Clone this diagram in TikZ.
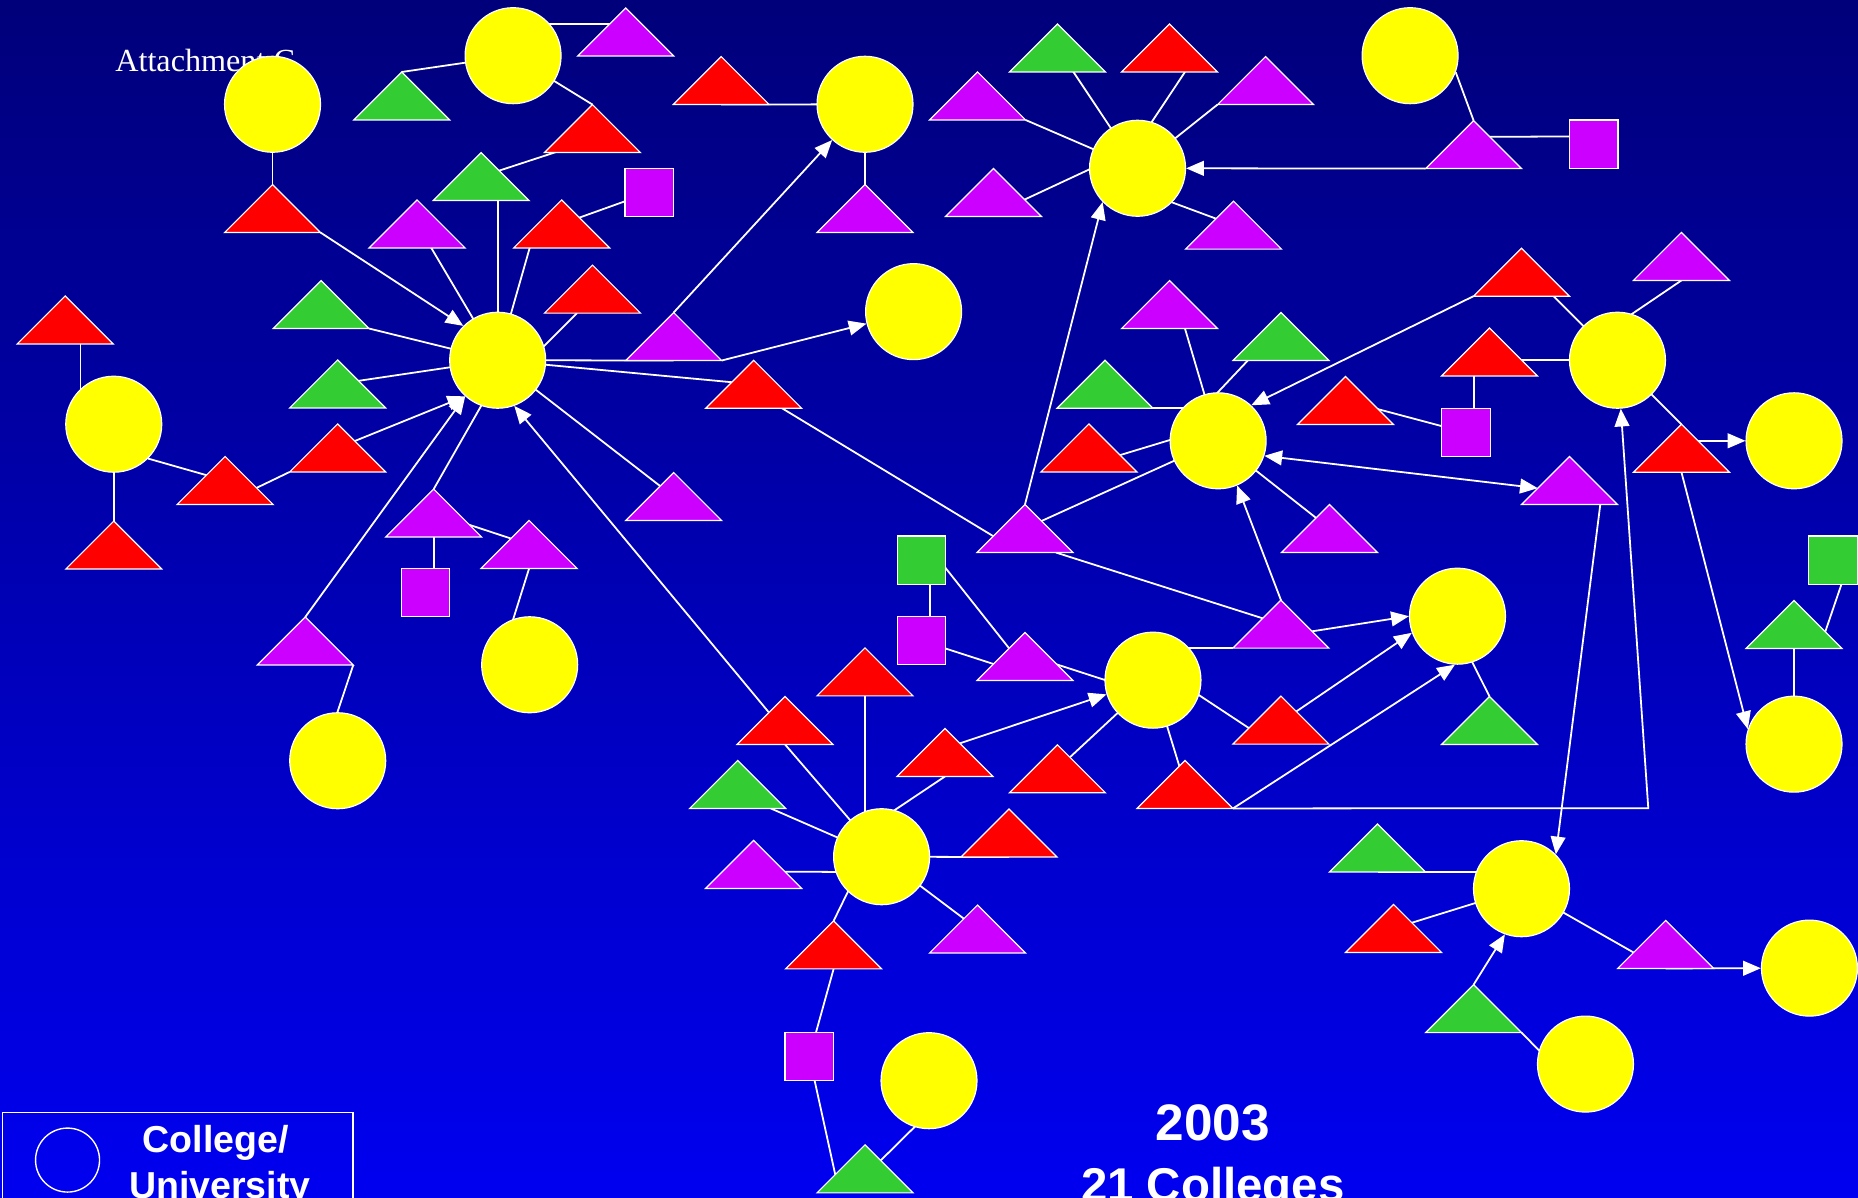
\documentclass[tikz,border=0pt]{standalone}
\usepackage{fontspec}
\setmainfont{Liberation Sans}
\newfontfamily\timesfont{Liberation Serif}
\usetikzlibrary{arrows.meta,calc}
\pgfdeclarelayer{back}
\pgfdeclarelayer{mid}
\pgfsetlayers{back,mid,main}
\definecolor{ylw}{RGB}{255,255,0}
\definecolor{rd}{RGB}{255,0,0}
\definecolor{grn}{RGB}{51,204,51}
\definecolor{prp}{RGB}{204,0,255}
\definecolor{bgtop}{RGB}{0,0,122}
\definecolor{bgbot}{RGB}{0,0,240}
\tikzset{
  shapeedge/.style={draw=white, line width=0.6pt},
  college/.style={circle, shapeedge, fill=ylw, minimum size=48.6pt, inner sep=0pt},
  tribox/.style={rectangle, minimum width=48.6pt, minimum height=24.3pt, inner sep=0pt, outer sep=0pt},
  sqbox/.style={rectangle, shapeedge, minimum width=24.6pt, minimum height=24.4pt, inner sep=0pt},
  link/.style={draw=white, line width=0.9pt},
  arr/.style={link, -{Triangle[length=9pt,width=7.5pt]}},
  darr/.style={link, {Triangle[length=9pt,width=7.5pt]}-{Triangle[length=9pt,width=7.5pt]}},
  lbl/.style={text=white, inner sep=0pt},
}
\newcommand\mytri[3]{%
  \node[tribox] (#1) at (#2) {};
  \filldraw[shapeedge, fill=#3] (#1.south west) -- (#1.north) -- (#1.south east) -- cycle;
}
\begin{document}
\begin{tikzpicture}[x=0.6pt,y=-0.6pt]
\useasboundingbox (0,0) rectangle (1568,1011);
\clip (0,0) rectangle (1568,1011);
\begin{pgfonlayer}{back}
\shade[top color=bgtop, bottom color=bgbot] (0,0) rectangle (1568,1011);
\end{pgfonlayer}

\node[lbl, anchor=base west, font=\timesfont\fontsize{16.3}{20}\selectfont] (attc) at (97,60.5) {Attachment C};

% colleges
\node[college] (cA) at (230,88) {};
\node[college] (cB) at (433,47) {};
\node[college] (cC) at (730,88) {};
\node[college] (cD) at (960,142) {};
\node[college] (cE) at (1190,47) {};
\node[college] (cF) at (420,304) {};
\node[college] (cG) at (771,263) {};
\node[college] (cH) at (96,358) {};
\node[college] (cI) at (1365,304) {};
\node[college] (cJ) at (1028,372) {};
\node[college] (cK) at (1514,372) {};
\node[college] (cL) at (447,561) {};
\node[college] (cM) at (285,642) {};
\node[college] (cN) at (1230,520) {};
\node[college] (cO) at (973,574) {};
\node[college] (cP) at (1514,628) {};
\node[college] (cQ) at (744,723) {};
\node[college] (cR) at (1284,750) {};
\node[college] (cS) at (1527,817) {};
\node[college] (cT) at (1338,898) {};
\node[college] (cU) at (784,912) {};

% triangles
\mytri{tR1}{230,176}{rd}
\mytri{tG1}{339,81}{grn}
\mytri{tP1}{528,27}{prp}
\mytri{tR2}{500,108.5}{rd}
\mytri{tG2}{406,149}{grn}
\mytri{tP2}{352,189}{prp}
\mytri{tR3}{474,189}{rd}
\mytri{tR4}{500,244}{rd}
\mytri{tG3}{271,257}{grn}
\mytri{tG4}{285,324}{grn}
\mytri{tP3}{568.5,284}{prp}
\mytri{tR5}{55,270}{rd}
\mytri{tR6}{96,460}{rd}
\mytri{tR7}{190,405.5}{rd}
\mytri{tR8}{285,378}{rd}
\mytri{tP4}{366,433}{prp}
\mytri{tP6}{446.5,459.5}{prp}
\mytri{tP5}{257.6,541}{prp}
\mytri{tP7}{568.5,419}{prp}
\mytri{tR9}{636,324.3}{rd}
\mytri{tR10}{662.5,608}{rd}
\mytri{tR11}{608.6,68}{rd}
\mytri{tP9}{730,176}{prp}
\mytri{tG5}{892.4,40.5}{grn}
\mytri{tR12}{987,40.5}{rd}
\mytri{tP10}{1068,68}{prp}
\mytri{tP11}{825,81}{prp}
\mytri{tP12}{838.4,162.4}{prp}
\mytri{tP13}{1041,190}{prp}
\mytri{tP14}{1243.6,122}{prp}
\mytri{tP15}{987,257}{prp}
\mytri{tG6}{1081,284}{grn}
\mytri{tG7}{932.5,324.3}{grn}
\mytri{tR13}{919,378}{rd}
\mytri{tR14}{1135.5,338}{rd}
\mytri{tR15}{1257,297}{rd}
\mytri{tR16}{1284,229.7}{rd}
\mytri{tP16}{1419,216.4}{prp}
\mytri{tR17}{1419,378.3}{rd}
\mytri{tP17}{1324.5,405.5}{prp}
\mytri{tP18}{1122,446}{prp}
\mytri{tP8}{865,446}{prp}
\mytri{tP19}{1081,526.7}{prp}
\mytri{tR19}{1081,607.7}{rd}
\mytri{tR18}{1000,662}{rd}
\mytri{tG13}{1257,608}{grn}
\mytri{tP20}{865,554}{prp}
\mytri{tR20}{892.4,648.8}{rd}
\mytri{tR21}{797.5,635}{rd}
\mytri{tR22}{730,567}{rd}
\mytri{tG8}{622.5,662}{grn}
\mytri{tP21}{636,729.5}{prp}
\mytri{tR23}{851.5,703}{rd}
\mytri{tP22}{825,784}{prp}
\mytri{tR24}{703.5,797.4}{rd}
\mytri{tG9}{730,986.4}{grn}
\mytri{tG10}{1162.5,715.6}{grn}
\mytri{tR25}{1176,783.5}{rd}
\mytri{tG11}{1243.6,851.2}{grn}
\mytri{tP23}{1405.7,797}{prp}
\mytri{tG12}{1514,527}{grn}

% squares
\node[sqbox, fill=prp] (sqP1) at (548,162.5) {};
\node[sqbox, fill=prp] (sqP2) at (359,500) {};
\node[sqbox, fill=prp] (sqP3) at (1345,121.6) {};
\node[sqbox, fill=prp] (sqP4) at (1237,365) {};
\node[sqbox, fill=grn] (sqG1) at (777.6,472.7) {};
\node[sqbox, fill=prp] (sqP5) at (777.6,540.3) {};
\node[sqbox, fill=prp] (sqP6) at (683,891.5) {};
\node[sqbox, fill=grn] (sqG2) at (1547,472.6) {};

% legend and titles
\draw[white, line width=0.8pt] (2,939) rectangle (298,1040);
\node[circle, draw=white, line width=0.7pt, minimum size=32.4pt, inner sep=0pt] (legc) at (57,979) {};
\node[lbl, anchor=base, font=\bfseries\fontsize{19}{23}\selectfont] (leg1) at (182,973) {College/};
\node[lbl, anchor=base, font=\bfseries\fontsize{19}{23}\selectfont] (leg2) at (185.5,1011) {University};
\node[lbl, anchor=base, font=\bfseries\fontsize{26}{30}\selectfont] (yr) at (1023.5,962.6) {2003};
\node[lbl, anchor=base, font=\bfseries\fontsize{24}{30}\selectfont] (cnt) at (1023.5,1013.6) {21 Colleges};

\coordinate (bend) at (1391,682);

\begin{pgfonlayer}{mid}
\draw[link] (cA.center) -- (tR1.center);
\draw[arr] (tR1.south east) -- (cF.135);
\draw[link] (cB.center) -- (tG1.north);
\draw[link] ($(cB.center)+(0,-27)$) -- ($(tP1.center)+(0,-7)$);
\draw[link] (cB.center) -- (tR2.north);
\draw[link] (tG2.center) -- ($(tR2.south)+(-26,-2)$);
\draw[link] (cF.center) -- (cF.center |- tG2.center);
\draw[link] (tP2.center) -- (cF.center);
\draw[link] ($(tR3.south)+(-27,0)$) -- (cF.center);
\draw[link] (tR3.center) -- (sqP1.center);
\draw[link] ($(tR4.south)+(-13,0)$) -- ($(cF.center)+(27,0)$);
\draw[link] (tG3.south east) -- (cF.center);
\draw[link] (tG4.center) -- (cF.center);
\draw[link] (cF.center) -- (tP3.south);
\draw[arr] (tP3.north) -- (cC);
\draw[arr] (tP3.south east) -- (cG);
\draw[link] (cF.center) -- (tR9.center);
\draw[link] ($(tR9.south)+(24,0)$) -- ($(tP8.center)+(-16,13)$);
\draw[link] (cF.center) -- (tP7.center);
\draw[arr] ($(tR10.center)+(-8,0)$) -- (cF.-70);
\draw[arr] (tR8.center) -- (cF.-132);
\draw[arr] (tP5.north) -- (cF.-132);
\draw[link] (tP4.north) -- ($(cF.center)+(8,0)$);
\draw[link] (tP4.center) -- (tP4.center |- sqP2.center);
\draw[link] (tP4.center) -- (tP6.center);
\draw[link] (tP6.south) -- ($(cL.center)+(-20,-19)$);
\draw[link] (tP5.south east) -- ($(cM.center)+(-14,0)$);
\draw[link] ($(tR5.center)+(13,0)$) -- ($(cH.center)+(-28,0)$);
\draw[link] (cH.center) -- (tR6.center);
\draw[link] (cH.-45) -- (tR7.center);
\draw[link] ($(tR7.center)+(0,19)$) -- (tR8.south west);
\draw[link] (tR11.south) -- (cC.center);
\draw[link] (cC.center) -- (tP9.center);
\draw[link] (tG5.center) -- (cD.center);
\draw[link] ($(tR12.south)+(13,0)$) -- ($(cD.center)+(-14,0)$);
\draw[link] (tP10.south west) -- (cD.center);
\draw[link] (tP11.south east) -- (cD.center);
\draw[link] ($(tP12.south)+(0,-2)$) -- ($(cD.center)+(0,-18)$);
\draw[link] ($(cD.center)+(0,18)$) -- (tP13.center);
\draw[arr] (tP14.south west) -- (cD);
\draw[link] (cE.-20) -- (tP14.north);
\draw[link] ($(tP14.center)+(0,-6.5)$) -- ($(sqP3.center)+(0,-6.5)$);
\draw[arr] (tP8.north) -- (cD.-136);
\draw[link] ($(tP15.south)+(13,0)$) -- (cJ.center);
\draw[link] ($(tG6.south)+(-28,0)$) -- ($(cJ.center)+(-20,-20)$);
\draw[link] (tG7.south) -- (tG7.south -| cJ.center);
\draw[link] ($(tR13.center)+(0,14)$) -- ($(cJ.center)+(0,-13)$);
\draw[link] (tR14.center) -- (sqP4.center);
\draw[link] ($(sqP4.center)+(7,0)$) -- ($(tR15.center)+(-13,0)$);
\draw[link] (cI.center) -- (cI.center -| tR15.center);
\draw[link] ($(tR16.south)+(27,0)$) -- (cI.center);
\draw[arr] (tR16.south west) -- (cJ.47);
\draw[link] (tP16.south) -- ($(cI.center)+(-10,-24)$);
\draw[link] (cI.center) -- (tR17.north);
\draw[arr] (cK.center -| tR17.center) -- (cK);
\draw[arr] (tR17.south) -- (cP.162);
\draw[darr] (cJ.-18) -- ($(tP17.north)!0.66!(tP17.south west)$);
\draw[arr] ($(tP17.south)+(26,0)$) -- (cR.45);
\draw[arr] (tR18.south east) -- (bend) -- (cI);
\draw[link] (cJ.center) -- (tP18.center);
\draw[link] (tP8.center) -- (cJ.center);
\draw[link] ($(tP8.south)+(26,0)$) -- (tP19.center);
\draw[arr] (tP19.north) -- (cJ.-67);
\draw[arr] ($(tP19.north)!0.65!(tP19.south east)$) -- (cN.180);
\draw[link] (tP19.south west) -- (tP19.south west -| cO.center);
\draw[link] ($(sqG1.center)+(7,0)$) -- ($(sqP5.center)+(7,0)$);
\draw[link] ($(sqG1.center)+(8,-9)$) -- ($(tP20.center)+(-4,5)$);
\draw[link] ($(sqP5.center)+(8,3)$) -- ($(tP20.center)+(-6,13)$);
\draw[link] ($(tP20.center)+(0,-2)$) -- ($(cO.center)+(0,13)$);
\draw[link] ($(cO.center)+(0,-13)$) -- ($(tR19.center)+(-13,16)$);
\draw[arr] ($(tR19.north)!0.32!(tR19.south east)$) -- (cN.-160);
\draw[arr] (tR18.south east) -- (cN.-93);
\draw[link] (cO.center) -- (tR18.center);
\draw[link] (tR20.center) -- (cO.center);
\draw[arr] ($(tR21.north)!0.31!(tR21.south east)$) -- (cO.-163);
\draw[link] (tR21.south) -- ($(cQ.center)+(0,-32)$);
\draw[link] (tR22.center) -- (tR22.center |- cQ.center);
\draw[link] (tR10.south) -- (cQ.center);
\draw[link] ($(tG8.south)+(28,0)$) -- (cQ.center);
\draw[link] ($(tP21.center)+(0,6)$) -- ($(cQ.center)+(0,13)$);
\draw[link] (cQ.center) -- (tR23.south);
\draw[link] (cQ.center) -- (tP22.center);
\draw[link] ($(cQ.center)+(-14,0)$) -- (tR24.north);
\draw[link] (tR24.south) -- (sqP6.center);
\draw[link] (sqP6.center) -- ($(tG9.center)+(-24,10)$);
\draw[link] ($(tG9.center)+(0,6)$) -- ($(cU.center)+(0,27)$);
\draw[link] (tG10.south) -- (tG10.south -| cR.center);
\draw[link] (tR25.center) -- (cR.center);
\draw[arr] (tG11.north) -- (cR.-110);
\draw[link] (tG11.south east) -- ($(cT.center)+(-28,0)$);
\draw[link] (cR.center) -- ($(tP23.center)+(-11,16)$);
\draw[arr] (tP23.south) -- (cS);
\draw[link] ($(sqG2.center)+(14,0)$) -- ($(tG12.center)+(24,13)$);
\draw[link] (tG12.center) -- (cP.center);
\draw[link] ($(cN.center)+(-7,0)$) -- (tG13.north);
\end{pgfonlayer}
\end{tikzpicture}
\end{document}
